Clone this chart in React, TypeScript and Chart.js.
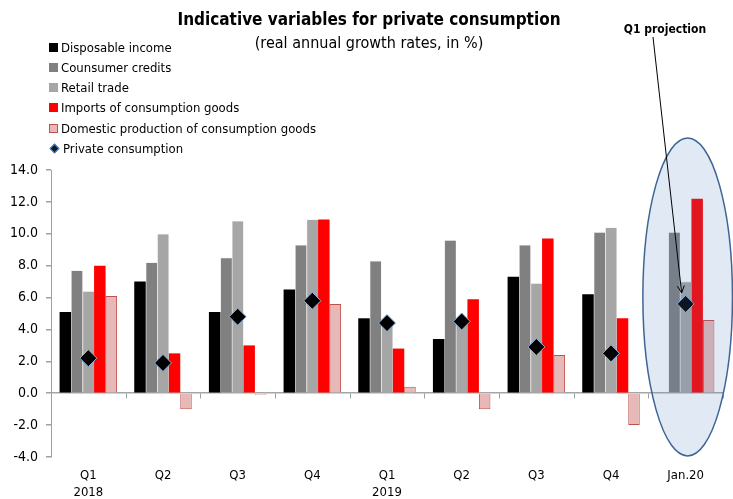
import React, { useEffect, useRef } from "react";
import { Chart, registerables } from "chart.js";

Chart.register(...registerables);

const categories: string[][] = [["Q1", "2018"], ["Q2"], ["Q3"], ["Q4"], ["Q1", "2019"], ["Q2"], ["Q3"], ["Q4"], ["Jan.20"]];
const disposableIncome: (number | null)[] = [5.1, 7.0, 5.1, 6.5, 4.7, 3.4, 7.3, 6.2, null];
const consumerCredits: number[] = [7.7, 8.2, 8.5, 9.3, 8.3, 9.6, 9.3, 10.1, 10.1];
const retailTrade: number[] = [6.4, 10.0, 10.8, 10.9, 4.5, 4.3, 6.9, 10.4, 7.0];
const importsGoods: number[] = [8.0, 2.5, 3.0, 10.9, 2.8, 5.9, 9.7, 4.7, 12.2];
const domesticProduction: number[] = [6.1, -1.0, -0.1, 5.6, 0.4, -1.0, 2.4, -2.0, 4.6];
const privateConsumption: number[] = [2.2, 1.9, 4.8, 5.8, 4.4, 4.5, 2.9, 2.5, 5.6];
const yTicks: number[] = [-4, -2, 0, 2, 4, 6, 8, 10, 12, 14];

const FONT = "'DejaVu Sans Condensed', 'Liberation Sans Narrow', 'DejaVu Sans', sans-serif";

const legendItems = [
  { label: "Disposable income", kind: "sq", color: "#000000", border: "#000000" },
  { label: "Counsumer credits", kind: "sq", color: "#808080", border: "#808080" },
  { label: "Retail trade", kind: "sq", color: "#a6a6a6", border: "#a6a6a6" },
  { label: "Imports of consumption goods", kind: "sq", color: "#ff0000", border: "#ff0000" },
  { label: "Domestic production of consumption goods", kind: "sq", color: "#e6b9b8", border: "#c0504d" },
  { label: "Private consumption", kind: "dia", color: "#0d1a2a", border: "#4f81bd" },
];

const overlayPlugin = {
  id: "overlayPlugin",
  afterDatasetsDraw(chart: any) {
    const { ctx, scales } = chart;
    const x = scales.x;
    const y = scales.y;
    const n = categories.length;
    const catW = (x.right - x.left) / n;
    ctx.save();
    ctx.strokeStyle = "#a0a0a0";
    ctx.lineWidth = 1;
    const y0 = Math.round(y.getPixelForValue(0)) + 0.5;
    for (let i = 0; i <= n; i++) {
      const px = Math.round(x.left + i * catW) + 0.5;
      ctx.beginPath();
      ctx.moveTo(px, y0);
      ctx.lineTo(px, y0 + 5);
      ctx.stroke();
    }
    const cx = x.getPixelForValue(n - 1) + 2;
    const top = y.getPixelForValue(16.0);
    const bot = y.getPixelForValue(-3.93);
    const cy = (top + bot) / 2;
    const ry = (bot - top) / 2;
    const rx = catW * 0.6;
    ctx.beginPath();
    ctx.ellipse(cx, cy, rx, ry, 0, 0, Math.PI * 2);
    ctx.fillStyle = "rgba(79,129,189,0.17)";
    ctx.fill();
    ctx.lineWidth = 1.5;
    ctx.strokeStyle = "#3e6596";
    ctx.stroke();
    const meta = chart.getDatasetMeta(5);
    const pt = meta.data[n - 1];
    const ex = pt.x - 4;
    const ey = pt.y - 11;
    const sx = 653;
    const sy = 37;
    ctx.beginPath();
    ctx.strokeStyle = "#000000";
    ctx.lineWidth = 1;
    ctx.moveTo(sx, sy);
    ctx.lineTo(ex, ey);
    ctx.stroke();
    const ang = Math.atan2(ey - sy, ex - sx);
    const hl = 8;
    ctx.beginPath();
    ctx.moveTo(ex - hl * Math.cos(ang - 0.45), ey - hl * Math.sin(ang - 0.45));
    ctx.lineTo(ex, ey);
    ctx.lineTo(ex - hl * Math.cos(ang + 0.45), ey - hl * Math.sin(ang + 0.45));
    ctx.stroke();
    ctx.restore();
  },
};

export default function App() {
  const ref = useRef<HTMLCanvasElement>(null);
  useEffect(() => {
    if (!ref.current) return;
    const chart = new Chart(ref.current, {
      type: "bar",
      data: {
        labels: categories,
        datasets: [
          { label: "Disposable income", data: disposableIncome, backgroundColor: "#000000", borderWidth: 0, order: 2 },
          { label: "Counsumer credits", data: consumerCredits, backgroundColor: "#808080", borderColor: "#cfcfcf", borderWidth: { left: 0.6, right: 0, top: 0.6, bottom: 0 }, order: 2 },
          { label: "Retail trade", data: retailTrade, backgroundColor: "#a6a6a6", borderColor: "#dedede", borderWidth: { left: 0.6, right: 0, top: 0.6, bottom: 0 }, order: 2 },
          { label: "Imports of consumption goods", data: importsGoods, backgroundColor: "#ff0000", borderWidth: 0, order: 2 },
          { label: "Domestic production of consumption goods", data: domesticProduction, backgroundColor: "#e6b9b8", borderColor: "#c0504d", borderWidth: 1, order: 2 },
          {
            type: "line" as any,
            label: "Private consumption",
            data: privateConsumption,
            showLine: false,
            pointStyle: "rectRot",
            pointRadius: 8.5,
            pointBackgroundColor: "#000000",
            pointBorderColor: "#8eb4e3",
            pointBorderWidth: 1,
            order: 1,
          } as any,
        ],
      },
      options: {
        responsive: false,
        animation: false,
        layout: { padding: { top: 170, right: 10, left: 0, bottom: 0 } },
        plugins: { legend: { display: false }, title: { display: false }, tooltip: { enabled: false } },
        datasets: { bar: { categoryPercentage: 0.77, barPercentage: 1.0 } } as any,
        scales: {
          x: {
            grid: { display: false },
            border: { display: false },
            ticks: { color: "#000000", font: { family: FONT, size: 13, lineHeight: 1.3 }, padding: 2, maxRotation: 0, autoSkip: false },
            afterFit: (s: any) => { s.height = 42; },
          },
          y: {
            min: -4,
            max: 14,
            afterBuildTicks: (s: any) => { s.ticks = yTicks.map((v) => ({ value: v })); },
            ticks: { color: "#000000", font: { family: FONT, size: 14 }, padding: 8, callback: (v: any) => Number(v).toFixed(1) },
            grid: {
              color: (c: any) => (c.tick && c.tick.value === 0 ? "#a6a6a6" : "rgba(0,0,0,0)"),
              tickColor: "#a0a0a0",
              tickLength: 5,
              lineWidth: 1.5,
            },
            border: { color: "#a0a0a0" },
            afterFit: (s: any) => { s.width = 51; },
          },
        },
      },
      plugins: [overlayPlugin],
    });
    return () => chart.destroy();
  }, []);

  return (
    <div style={{ position: "fixed", left: 0, top: 0, width: 733, height: 499, background: "#fff", fontFamily: FONT }}>
      <canvas ref={ref} width={733} height={499} style={{ position: "absolute", left: 0, top: 0 }} />
      <div style={{ position: "absolute", left: 0, width: 738, top: 8, textAlign: "center", fontWeight: "bold", fontSize: 17, lineHeight: "22px" }}>
        Indicative variables for private consumption
      </div>
      <div style={{ position: "absolute", left: 0, width: 738, top: 32, textAlign: "center", fontSize: 16, lineHeight: "22px" }}>
        (real annual growth rates, in %)
      </div>
      <div style={{ position: "absolute", left: 610, width: 110, top: 21, textAlign: "center", fontWeight: "bold", fontSize: 12, lineHeight: "16px" }}>
        Q1 projection
      </div>
      {legendItems.map((it, i) => (
        <div key={i} style={{ position: "absolute", left: 49, top: 38 + i * 20.3, height: 18, display: "flex", alignItems: "center", fontSize: 13, whiteSpace: "nowrap" }}>
          {it.kind === "sq" ? (
            <span style={{ display: "inline-block", width: 7, height: 7, background: it.color, border: `1px solid ${it.border}`, marginRight: 3 }} />
          ) : (
            <span style={{ display: "inline-block", width: 5, height: 5, background: it.color, border: `1px solid ${it.border}`, transform: "rotate(45deg)", marginLeft: 2, marginRight: 5 }} />
          )}
          <span>{it.label}</span>
        </div>
      ))}
    </div>
  );
}
